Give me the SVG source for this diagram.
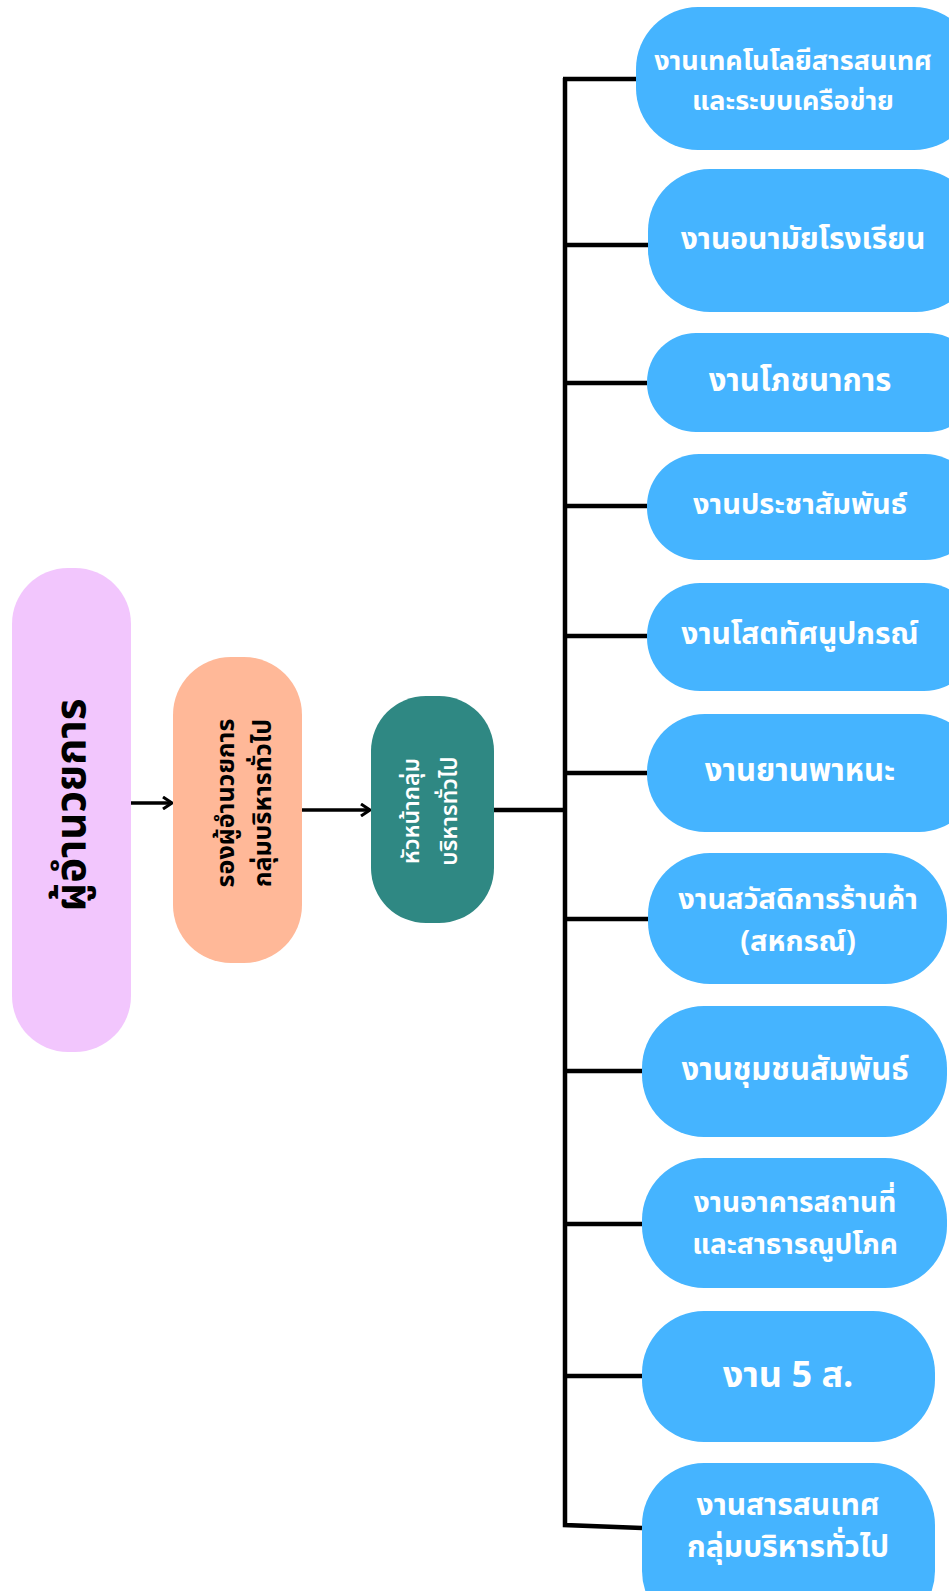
<svg xmlns="http://www.w3.org/2000/svg" width="949" height="1591" viewBox="0 0 949 1591">
<style>
text{font-family:"Noto Sans Thai","Noto Sans","DejaVu Sans",sans-serif;font-weight:700;text-anchor:middle;dominant-baseline:central}
.blue{fill:#45b4ff}
.bt{fill:#ffffff;font-size:29px}
.ln{stroke:#000;stroke-width:4.5;fill:none}
.ar{stroke:#000;stroke-width:3.5;fill:none}
</style>
<defs>
<marker id="arr" viewBox="0 0 14 14" refX="12" refY="7" markerWidth="14" markerHeight="14" markerUnits="userSpaceOnUse" orient="auto">
<path d="M3,1 L12,7 L3,13" fill="none" stroke="#000" stroke-width="3"/>
</marker>
</defs>
<g id="connectors">
<line class="ar" x1="131" y1="803" x2="172" y2="803" marker-end="url(#arr)"/>
<line class="ar" x1="302" y1="810" x2="370" y2="810" marker-end="url(#arr)"/>
<line class="ln" x1="494" y1="810" x2="565" y2="810"/>
<path class="ln" d="M565,78 L565,1525 L642,1528"/>
<line class="ln" x1="563" y1="79" x2="636" y2="79"/>
<line class="ln" x1="565" y1="245" x2="648" y2="245"/>
<line class="ln" x1="565" y1="383" x2="647" y2="383"/>
<line class="ln" x1="565" y1="506" x2="647" y2="506"/>
<line class="ln" x1="565" y1="636" x2="647" y2="636"/>
<line class="ln" x1="565" y1="773" x2="647" y2="773"/>
<line class="ln" x1="565" y1="919" x2="648" y2="919"/>
<line class="ln" x1="565" y1="1071" x2="642" y2="1071"/>
<line class="ln" x1="565" y1="1224" x2="642" y2="1224"/>
<line class="ln" x1="565" y1="1376" x2="642" y2="1376"/>
</g>
<g id="director">
<rect x="12" y="568" width="119" height="484" rx="56" fill="#f2c6fd"/>
<text transform="translate(72,805) rotate(-90)" style="font-size:42px;fill:#000">ผู้อำนวยการ</text>
</g>
<g id="deputy">
<rect x="173" y="657" width="129" height="306" rx="58" fill="#ffb898"/>
<text transform="translate(226,803) rotate(-90)" style="font-size:25px;fill:#000">รองผู้อำนวยการ</text>
<text transform="translate(263,803) rotate(-90)" style="font-size:25px;fill:#000">กลุ่มบริหารทั่วไป</text>
</g>
<g id="head">
<rect x="371" y="696" width="123" height="227" rx="55" fill="#2f8883"/>
<text transform="translate(412,811) rotate(-90)" style="font-size:23px;fill:#fff;font-weight:600">หัวหน้ากลุ่ม</text>
<text transform="translate(450,811) rotate(-90)" style="font-size:23px;fill:#fff;font-weight:600">บริหารทั่วไป</text>
</g>
<g id="n1">
<rect class="blue" x="636" y="7" width="340" height="143" rx="62"/>
<text class="bt" x="793" y="61" style="font-size:27px">งานเทคโนโลยีสารสนเทศ</text>
<text class="bt" x="793" y="101" style="font-size:27px">และระบบเครือข่าย</text>
</g>
<g id="n2">
<rect class="blue" x="648" y="169" width="330" height="143" rx="62"/>
<text class="bt" x="803" y="240" style="font-size:30px">งานอนามัยโรงเรียน</text>
</g>
<g id="n3">
<rect class="blue" x="647" y="333" width="330" height="99" rx="49"/>
<text class="bt" x="800" y="381" style="font-size:31px">งานโภชนาการ</text>
</g>
<g id="n4">
<rect class="blue" x="647" y="454" width="330" height="106" rx="52"/>
<text class="bt" x="800" y="505">งานประชาสัมพันธ์</text>
</g>
<g id="n5">
<rect class="blue" x="647" y="583" width="330" height="108" rx="53"/>
<text class="bt" x="800" y="635" style="font-size:30px">งานโสตทัศนูปกรณ์</text>
</g>
<g id="n6">
<rect class="blue" x="647" y="714" width="330" height="118" rx="58"/>
<text class="bt" x="800" y="771" style="font-size:31px">งานยานพาหนะ</text>
</g>
<g id="n7">
<rect class="blue" x="648" y="853" width="299" height="131" rx="62"/>
<text class="bt" x="798" y="900">งานสวัสดิการร้านค้า</text>
<text class="bt" x="798" y="942">(สหกรณ์)</text>
</g>
<g id="n8">
<rect class="blue" x="642" y="1006" width="305" height="131" rx="62"/>
<text class="bt" x="795" y="1070" style="font-size:31px">งานชุมชนสัมพันธ์</text>
</g>
<g id="n9">
<rect class="blue" x="642" y="1158" width="305" height="130" rx="62"/>
<text class="bt" x="795" y="1203" style="font-size:28px">งานอาคารสถานที่</text>
<text class="bt" x="795" y="1245" style="font-size:28px">และสาธารณูปโภค</text>
</g>
<g id="n10">
<rect class="blue" x="642" y="1311" width="293" height="131" rx="62"/>
<text class="bt" x="788" y="1376" style="font-size:36px">งาน 5 ส.</text>
</g>
<g id="n11">
<rect class="blue" x="642" y="1463" width="293" height="170" rx="62"/>
<text class="bt" x="788" y="1506" style="font-size:30px">งานสารสนเทศ</text>
<text class="bt" x="788" y="1548" style="font-size:30px">กลุ่มบริหารทั่วไป</text>
</g>
</svg>
